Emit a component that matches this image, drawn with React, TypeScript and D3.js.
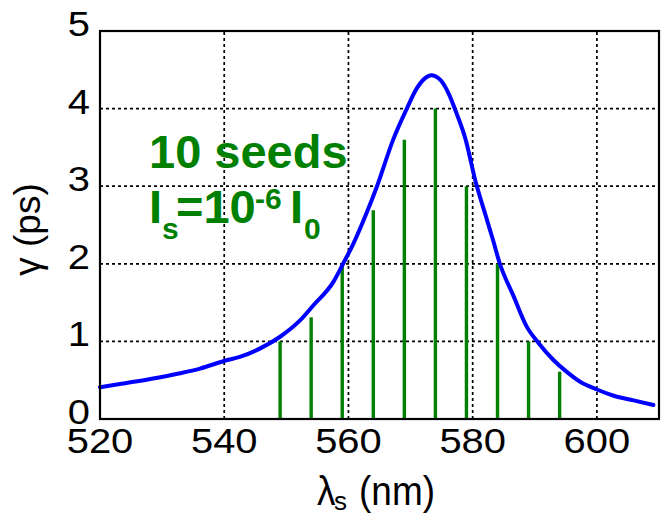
import React from "react";
import * as d3 from "d3";

const curveLambda = [520, 523.2, 528.1, 532.9, 536.1, 540.1, 542.5, 545.8, 549, 552.2, 554.3, 557.6, 559.2, 560.8, 562.9, 564.6, 567.2, 569.4, 571, 572.3, 573.3, 574.8, 576.1, 577.4, 578.8, 580.5, 582.1, 583.3, 584.3, 586.6, 588.7, 590.6, 593, 595.1, 597.3, 600, 602.7, 605.9, 609.1];
const curveGamma = [0.41, 0.45, 0.515, 0.59, 0.65, 0.75, 0.8, 0.91, 1.06, 1.27, 1.46, 1.77, 2.01, 2.26, 2.65, 3.0, 3.6, 4.0, 4.26, 4.39, 4.43, 4.37, 4.2, 3.94, 3.62, 3.05, 2.62, 2.3, 2.02, 1.58, 1.19, 0.98, 0.76, 0.61, 0.48, 0.38, 0.3, 0.24, 0.18];

const seedLambda = [549, 554, 559, 564, 569, 574, 579, 584, 589, 594];
const seedGamma = [1.0, 1.31, 2.0, 2.69, 3.6, 4.0, 3.0, 2.0, 1.0, 0.61];

const xTicks = [520, 540, 560, 580, 600];
const yTicks = [0, 1, 2, 3, 4, 5];

const W = 662;
const H = 516;

export default function App() {
  const x = d3.scaleLinear().domain([520, 610]).range([100, 659]);
  const y = d3.scaleLinear().domain([0, 5]).range([419, 31]);
  const pts: [number, number][] = curveLambda.map((l, i) => [l, curveGamma[i]]);
  const line = d3
    .line<[number, number]>()
    .x((d) => x(d[0]))
    .y((d) => y(d[1]))
    .curve(d3.curveMonotoneX);
  const font = "'Liberation Sans', Arial, Helvetica, sans-serif";
  const green = "#008000";
  const [x0, x1] = x.range();
  const [y0, y1] = y.range();

  return (
    <svg
      width={W}
      height={H}
      viewBox={`0 0 ${W} ${H}`}
      style={{ position: "absolute", left: 0, top: 0, background: "#fff" }}
      fontFamily={font}
    >
      <rect x={0} y={0} width={W} height={H} fill="#fff" />
      {/* grid */}
      <g stroke="#000" strokeWidth={1.7} strokeDasharray="3,3" fill="none">
        {xTicks.slice(1).map((t) => (
          <line key={"gx" + t} x1={x(t)} x2={x(t)} y1={y0} y2={y1} />
        ))}
        {yTicks.slice(1).map((t) => (
          <line key={"gy" + t} x1={x0} x2={x1} y1={y(t)} y2={y(t)} />
        ))}
      </g>
      {/* seed bars */}
      <g stroke={green} strokeWidth={3.4}>
        {seedLambda.map((l, i) => (
          <line key={"b" + i} x1={x(l)} x2={x(l)} y1={y(0)} y2={y(seedGamma[i])} />
        ))}
      </g>
      {/* curve */}
      <path d={line(pts) || ""} fill="none" stroke="#0000ff" strokeWidth={4} strokeLinejoin="round" strokeLinecap="round" />
      {/* box */}
      <rect x={x0} y={y1} width={x1 - x0} height={y0 - y1} fill="none" stroke="#000" strokeWidth={2.2} />
      {/* tick labels */}
      <g fontSize={35} fill="#000">
        {xTicks.map((t) => (
          <text key={"tx" + t} transform={`translate(${x(t)},453) scale(1.14,1)`} textAnchor="middle">
            {t}
          </text>
        ))}
        {yTicks.map((t) => (
          <text key={"ty" + t} transform={`translate(90,${y(t) + 5}) scale(1.14,1)`} textAnchor="end">
            {t}
          </text>
        ))}
      </g>
      {/* y label */}
      <text transform="translate(40,229.5) rotate(-90)" textAnchor="middle" fontSize={37} fill="#000">
        γ (ps)
      </text>
      {/* x label */}
      <g fill="#000">
        <text transform="translate(317,505) scale(1,1.12)" fontSize={37}>λ</text>
        <text x={334} y={510} fontSize={26}>s</text>
        <text transform="translate(359,505) scale(1,1.12)" fontSize={37}>(nm)</text>
      </g>
      {/* annotation */}
      <g fill={green} fontWeight="bold">
        <text x={149} y={168} fontSize={47}>10 seeds</text>
        <text x={149} y={223} fontSize={47}>I</text>
        <text x={162} y={239} fontSize={30}>s</text>
        <text x={176} y={223} fontSize={47}>=10</text>
        <text x={255} y={209} fontSize={30}>-6</text>
        <text x={290} y={223} fontSize={47}>I</text>
        <text x={304} y={239} fontSize={30}>0</text>
      </g>
    </svg>
  );
}
